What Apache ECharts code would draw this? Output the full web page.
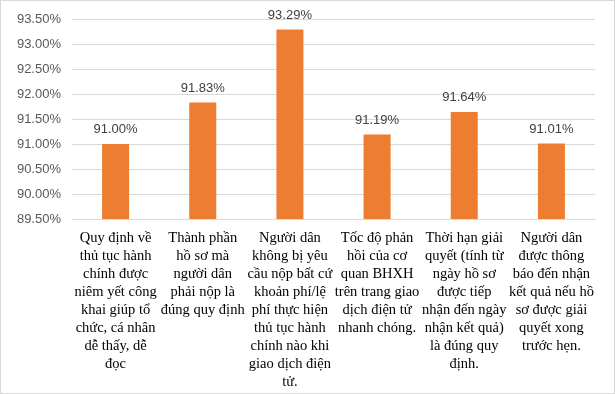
<!DOCTYPE html>
<html><head><meta charset="utf-8">
<script src="https://cdn.jsdelivr.net/npm/echarts@6/dist/echarts.min.js"></script>
<style>html,body{margin:0;padding:0;background:#fff}#c{width:615px;height:394px;box-sizing:border-box;border:1px solid #d9d9d9}</style>
</head><body><div id="c"></div>
<script>
const categories = [
  "Quy định về\nthủ tục hành\nchính được\nniêm yết công\nkhai giúp tổ\nchức, cá nhân\ndễ thấy, dễ\nđọc",
  "Thành phần\nhồ sơ mà\nngười dân\nphải nộp là\nđúng quy định",
  "Người dân\nkhông bị yêu\ncầu nộp bất cứ\nkhoản phí/lệ\nphí thực hiện\nthủ tục hành\nchính nào khi\ngiao dịch điện\ntử.",
  "Tốc độ phản\nhồi của cơ\nquan BHXH\ntrên trang giao\ndịch điện tử\nnhanh chóng.",
  "Thời hạn giải\nquyết (tính từ\nngày hồ sơ\nđược tiếp\nnhận đến ngày\nnhận kết quả)\nlà đúng quy\nđịnh.",
  "Người dân\nđược thông\nbáo đến nhận\nkết quả nếu hồ\nsơ được giải\nquyết xong\ntrước hẹn."
];
const values = [91.00, 91.83, 93.29, 91.19, 91.64, 91.01];
const yMin = 89.5, yMax = 93.5, yStep = 0.5;

const chart = echarts.init(document.getElementById('c'));
chart.setOption({
  animation: false,
  grid: {left: 71, right: 19, top: 18, bottom: 174, containLabel: false, outerBoundsMode: 'none'},
  xAxis: {
    type: 'category', data: categories,
    axisLine: {lineStyle: {color: '#d9d9d9'}},
    axisTick: {show: false},
    axisLabel: {interval: 0, margin: 10, color: '#000', fontFamily: 'Liberation Serif', fontSize: 14.5, lineHeight: 18, align: 'center', hideOverlap: false}
  },
  yAxis: {
    type: 'value', min: yMin, max: yMax, interval: yStep,
    axisLine: {show: false}, axisTick: {show: false},
    splitLine: {lineStyle: {color: '#d9d9d9'}},
    axisLabel: {formatter: v => v.toFixed(2) + '%', color: '#595959', fontFamily: 'Liberation Sans', fontSize: 13, margin: 11}
  },
  series: [{
    type: 'bar', data: values, barWidth: '31%',
    itemStyle: {color: '#ED7D31'},
    label: {show: true, position: 'top', distance: 8, formatter: p => p.value.toFixed(2) + '%', color: '#404040', fontFamily: 'Liberation Sans', fontSize: 13}
  }]
});
</script></body></html>
